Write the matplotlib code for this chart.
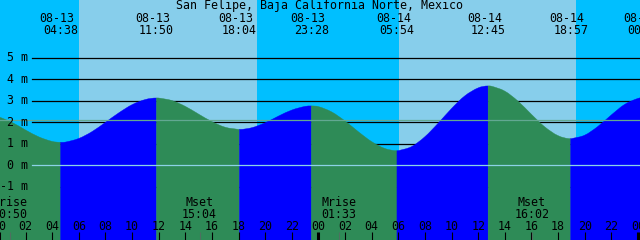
import matplotlib
matplotlib.use("Agg")
import matplotlib.pyplot as plt
import matplotlib.transforms as mtransforms
from matplotlib.path import Path
from matplotlib.patches import PathPatch
import numpy as np

# ---------------- data ----------------
title = "San Felipe, Baja California Norte, Mexico"
unit = "m"

# tide height read at each hour from 08-13 00:00 (metres)
hours = list(range(0, 49))
hourly_heights = [2.25, 1.99, 1.64, 1.32, 1.11, 1.08, 1.25, 1.57, 2.00, 2.44,
                  2.82, 3.06, 3.13, 3.01, 2.74, 2.38, 2.03, 1.77, 1.67, 1.75,
                  1.98, 2.29, 2.57, 2.74, 2.73, 2.48, 2.06, 1.56, 1.10, 0.78,
                  0.68, 0.87, 1.33, 1.96, 2.64, 3.23, 3.60, 3.68, 3.45, 2.98,
                  2.37, 1.79, 1.38, 1.24, 1.40, 1.81, 2.34, 2.83, 3.11]

# high / low tide events
tide_dates = ["08-13", "08-13", "08-13", "08-13", "08-14", "08-14", "08-14", "08-15"]
tide_times = ["04:38", "11:50", "18:04", "23:28", "05:54", "12:45", "18:57", "00:30"]
tide_heights = [1.07, 3.13, 1.67, 2.76, 0.68, 3.69, 1.24, 3.15]

# moon events
moon_names = ["Mrise", "Mset", "Mrise", "Mset"]
moon_dates = ["08-13", "08-13", "08-14", "08-14"]
moon_times = ["00:50", "15:04", "01:33", "16:02"]

# sun events
sunrise_dates = ["08-13", "08-14"]
sunrise_times = ["06:01", "06:03"]
sunset_dates = ["08-13", "08-14"]
sunset_times = ["19:23", "19:21"]

y_levels = [-1, 0, 1, 2, 3, 4, 5]
mean_level = 2.09

# ---------------- helpers ----------------
day_index = {"08-13": 0, "08-14": 1, "08-15": 2}


def to_hours(d, t):
    hh, mm = t.split(":")
    return day_index[d] * 24 + int(hh) + int(mm) / 60.0


tide_t = [to_hours(d, t) for d, t in zip(tide_dates, tide_times)]
moon_t = [to_hours(d, t) for d, t in zip(moon_dates, moon_times)]
rise_t = [to_hours(d, t) for d, t in zip(sunrise_dates, sunrise_times)]
set_t = [to_hours(d, t) for d, t in zip(sunset_dates, sunset_times)]

# combine hourly readings and extremes
pts = sorted(list(zip(hours, hourly_heights)) + list(zip(tide_t, tide_heights)))
ct = np.array([p[0] for p in pts])
ch = np.array([p[1] for p in pts])
is_ext = np.array([any(abs(p[0] - e) < 1e-9 for e in tide_t) for p in pts])

# slopes for smooth (Hermite / Bezier) rendering through the readings
slope = np.zeros(len(ct))
for i in range(len(ct)):
    if is_ext[i]:
        slope[i] = 0.0
    elif i == 0:
        slope[i] = (ch[1] - ch[0]) / (ct[1] - ct[0])
    elif i == len(ct) - 1:
        slope[i] = (ch[-1] - ch[-2]) / (ct[-1] - ct[-2])
    else:
        slope[i] = (ch[i + 1] - ch[i - 1]) / (ct[i + 1] - ct[i - 1])

# ---------------- colours ----------------
NIGHT = "#00BFFF"
DAY = "#87CEEB"
RISE = "#0000FF"
FALL = "#2E8B57"
MEAN = "#63A892"
DATUM = "#8CD2E6"

# ---------------- figure ----------------
W, H = 640, 240
fig = plt.figure(figsize=(6.4, 2.4), dpi=100)
ax = fig.add_axes([0, 0, 1, 1])
ax.set_axis_off()

px_per_h = 13.31
x0 = -1.0  # pixel of 08-13 00:00
t_left = (0 - x0) / px_per_h
t_right = (W - x0) / px_per_h
zero_px = 165.3
px_per_m = 21.5
y_top = zero_px / px_per_m
y_bot = (zero_px - H) / px_per_m
ax.set_xlim(t_left, t_right)
ax.set_ylim(y_bot, y_top)

# day / night background
ax.axvspan(t_left - 1, t_right + 1, color=DAY, zorder=0, lw=0)
night_starts = [t_left - 1] + set_t
night_ends = rise_t + [t_right + 1]
for a, b in zip(night_starts, night_ends):
    ax.axvspan(a, b, color=NIGHT, zorder=0.5, lw=0)

# level lines (behind water)
for lv in y_levels:
    if lv != 0:
        ax.axhline(lv, xmin=32 / W, xmax=1, color="black", lw=0.9, zorder=1)

# water, coloured by rising / falling, drawn as smooth curves
bounds = [ct[0]] + tide_t
if ct[-1] > bounds[-1]:
    bounds.append(ct[-1])
floor = y_bot - 1
for a, b in zip(bounds[:-1], bounds[1:]):
    idx = np.where((ct >= a - 1e-9) & (ct <= b + 1e-9))[0]
    if len(idx) < 2:
        continue
    col = RISE if ch[idx[-1]] > ch[idx[0]] else FALL
    verts = [(ct[idx[0]], floor), (ct[idx[0]], ch[idx[0]])]
    codes = [Path.MOVETO, Path.LINETO]
    for i, j in zip(idx[:-1], idx[1:]):
        dt = ct[j] - ct[i]
        verts += [(ct[i] + dt / 3, ch[i] + slope[i] * dt / 3),
                  (ct[j] - dt / 3, ch[j] - slope[j] * dt / 3),
                  (ct[j], ch[j])]
        codes += [Path.CURVE4] * 3
    verts += [(ct[idx[-1]], floor), (ct[idx[0]], floor)]
    codes += [Path.LINETO, Path.CLOSEPOLY]
    ax.add_patch(PathPatch(Path(verts, codes), facecolor=col, edgecolor=col,
                           lw=0.3, zorder=2))

# datum and mean lines over water
ax.axhline(0, xmin=32 / W, xmax=1, color=DATUM, lw=0.9, zorder=3)
ax.axhline(mean_level, xmin=0, xmax=1, color=MEAN, lw=0.9, zorder=3)

font = dict(family="DejaVu Sans Mono", size=8.4, color="black")
bx = mtransforms.blended_transform_factory(ax.transData, ax.transAxes)
by = mtransforms.blended_transform_factory(ax.transAxes, ax.transData)


def fy(pix):
    return 1 - pix / H


# title
ax.text(0.5, fy(9), title, transform=ax.transAxes, ha="center", va="baseline",
        zorder=5, **font)

# tide event labels
for d, t, tt in zip(tide_dates, tide_times, tide_t):
    ax.text(tt, fy(21.5), d, transform=mtransforms.offset_copy(bx, fig, x=-3.5, units="dots"),
            ha="center", va="baseline", zorder=5, **font)
    ax.text(tt, fy(34), t, transform=bx, ha="center", va="baseline", zorder=5, **font)

# y labels
ylab_tr = mtransforms.offset_copy(by, fig, y=-3.5, units="dots")
for lv in y_levels:
    ax.text(28 / W, lv, f"{lv} {unit}", transform=ylab_tr, ha="right", va="baseline",
            zorder=5, **font)

# moon labels
for n, t, tt in zip(moon_names, moon_times, moon_t):
    ax.text(tt, fy(206), n, transform=bx, ha="center", va="baseline", zorder=5, **font)
    ax.text(tt, fy(217.5), t, transform=bx, ha="center", va="baseline", zorder=5, **font)

# hour labels and ticks
tick_hours = list(range(0, 49, 2))
for h in tick_hours:
    ax.text(h, fy(230), f"{h % 24:02d}", transform=bx, ha="center", va="baseline",
            zorder=5, **font)
    if h % 24 == 0:
        ax.vlines(h, 0, 8 / H, transform=bx, color="black", lw=2.2, zorder=6)
    else:
        ax.vlines(h, 0, 8 / H, transform=bx, color="black", lw=0.8, zorder=6)
for tt in moon_t:
    ax.vlines(tt, 0, 8 / H, transform=bx, color="#4F6F60", lw=0.8, zorder=6)

fig.savefig("out.png", dpi=100)
